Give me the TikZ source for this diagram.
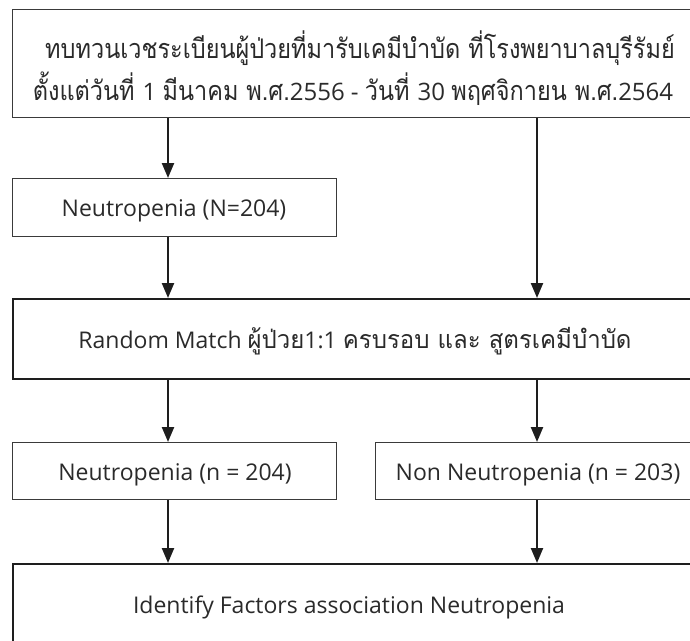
\documentclass[tikz,border=0pt]{standalone}
\usepackage{fontspec}
\usepackage{graphicx}
\setmainfont{Open Sans}
\newfontfamily\thaifont[Script=Thai]{Loma}
\usetikzlibrary{arrows.meta}
\definecolor{boxgray}{HTML}{3A3A3A}
\definecolor{ink}{HTML}{1E1E1E}
\definecolor{txt}{HTML}{2A2A2A}
\newcommand{\thtop}[1]{\scalebox{0.87}[1]{\thaifont\fontsize{27}{32}\selectfont #1}}
\newcommand{\numtop}[1]{{\fontsize{24}{28}\selectfont #1}}
\newcommand{\thmid}[1]{\scalebox{0.96}[1]{\thaifont\fontsize{25}{30}\selectfont #1}}
\begin{document}
\begin{tikzpicture}[x=1pt,y=-1pt,
  thinbox/.style={draw=boxgray, line width=1.3pt, inner sep=0pt, anchor=north west, rectangle},
  thickbox/.style={draw=ink, line width=2.3pt, inner sep=0pt, anchor=north west, rectangle},
  lbl/.style={font=\fontsize{23}{28}\selectfont, text=txt, inner sep=0pt, anchor=base},
  arr/.style={draw=ink, line width=2.3pt, -{Triangle[length=15pt,width=12pt]}}]
\useasboundingbox (0,0) rectangle (690,640);
\clip (0,0) rectangle (690,640);
% boxes
\node[thinbox, minimum width=696pt, minimum height=108pt] (top) at (12,9) {};
\node[thinbox, minimum width=324pt, minimum height=58pt] (neu1) at (12,178) {};
\node[thickbox, minimum width=688pt, minimum height=80pt] (match) at (12,298) {};
\node[thinbox, minimum width=324pt, minimum height=57pt] (neu2) at (12,442) {};
\node[thinbox, minimum width=327pt, minimum height=57pt] (non) at (375,442) {};
\node[thickbox, minimum width=688pt, minimum height=100pt] (ident) at (12,563) {};
% texts
\node[lbl] (t1a) at (360,58) {\thtop{ทบทวนเวชระเบียนผู้ป่วยที่มารับเคมีบำบัด ที่โรงพยาบาลบุรีรัมย์}};
\node[lbl] (t1b) at (353,100) {\thtop{ตั้งแต่วันที่ }\numtop{1 }\thtop{มีนาคม พ.ศ.}\numtop{2556 - }\thtop{วันที่ }\numtop{30 }\thtop{พฤศจิกายน พ.ศ.}\numtop{2564}};
\node[lbl] (t2) at (174,216) {Neutropenia (N=204)};
\node[lbl] (t3) at (355,348) {Random Match \thmid{ผู้ป่วย}1:1 \thmid{ครบรอบ และ สูตรเคมีบำบัด}};
\node[lbl] (t4) at (175,480) {Neutropenia (n = 204)};
\node[lbl] (t5) at (538,480) {Non Neutropenia (n = 203)};
\node[lbl] (t6) at (349,613) {Identify Factors association Neutropenia};
% columns
\coordinate (colL) at (168,0);
\coordinate (colR) at (537,0);
% arrows
\draw[arr] (top.south -| colL) -- (neu1.north -| colL);
\draw[arr] (top.south -| colR) -- (match.north -| colR);
\draw[arr] (neu1.south -| colL) -- (match.north -| colL);
\draw[arr] (match.south -| colL) -- (neu2.north -| colL);
\draw[arr] (match.south -| colR) -- (non.north -| colR);
\draw[arr] (neu2.south -| colL) -- (ident.north -| colL);
\draw[arr] (non.south -| colR) -- (ident.north -| colR);
\end{tikzpicture}
\end{document}
